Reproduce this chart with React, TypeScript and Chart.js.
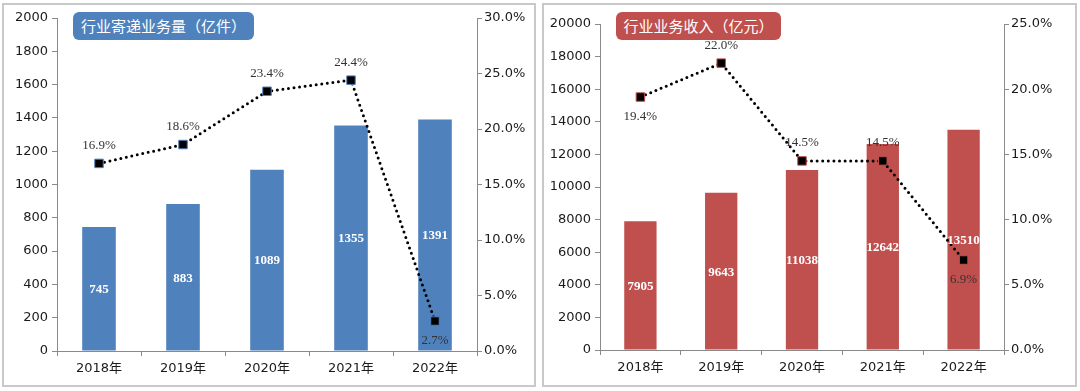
import React, { useEffect, useRef } from "react";
import { Chart, registerables } from "chart.js";

Chart.register(...registerables);

const years = ["2018年", "2019年", "2020年", "2021年", "2022年"];

const volumeTitle = "行业寄递业务量（亿件）";
const volume = [745, 883, 1089, 1355, 1391];
const volumeGrowth = [16.9, 18.6, 23.4, 24.4, 2.7];
const volumeLabelSide = ["above", "above", "above", "above", "below"];

const revenueTitle = "行业业务收入（亿元）";
const revenue = [7905, 9643, 11038, 12642, 13510];
const revenueGrowth = [19.4, 22.0, 14.5, 14.5, 6.9];
const revenueLabelSide = ["below", "above", "above", "above", "below"];

const SANS = "'DejaVu Sans', 'Noto Sans CJK SC', sans-serif";
const SERIF = "'Liberation Serif', 'DejaVu Serif', serif";

const valueLabels = {
  id: "valueLabels",
  afterDatasetsDraw(chart: any, _args: any, opts: any) {
    const ctx = chart.ctx;
    ctx.save();
    ctx.textAlign = "center";
    ctx.textBaseline = "middle";
    const barMeta = chart.getDatasetMeta(0);
    ctx.font = `bold 13px ${SERIF}`;
    ctx.fillStyle = "#ffffff";
    barMeta.data.forEach((el: any, i: number) => {
      const p = el.getProps(["x", "y", "base"], true);
      ctx.fillText(String(chart.data.datasets[0].data[i]), p.x, (p.y + p.base) / 2 + 1);
    });
    const lineMeta = chart.getDatasetMeta(1);
    ctx.font = `13px ${SERIF}`;
    ctx.fillStyle = "#333333";
    lineMeta.data.forEach((el: any, i: number) => {
      const side = opts.sides[i];
      const dy = side === "below" ? 20 : -18;
      const v = chart.data.datasets[1].data[i] as number;
      ctx.fillText(v.toFixed(1) + "%", el.x, el.y + dy);
    });
    ctx.restore();
  },
};

type PanelProps = {
  left: number;
  width: number;
  color: string;
  title: string;
  titleLeft: number;
  titleWidth: number;
  bars: number[];
  growth: number[];
  sides: string[];
  barMax: number;
  barStep: number;
  pctMax: number;
  leftW: number;
  rightW: number;
  topPad: number;
  xH: number;
};

function Panel(p: PanelProps) {
  const ref = useRef<HTMLCanvasElement | null>(null);
  const cw = p.width - 4;
  const ch = 380;
  useEffect(() => {
    if (!ref.current) return;
    const axisColor = "#8a8a8a";
    const tickFont = { family: SANS, size: 13 };
    const chart = new Chart(ref.current, {
      type: "bar",
      data: {
        labels: years,
        datasets: [
          {
            type: "bar",
            data: p.bars,
            backgroundColor: p.color,
            borderWidth: 0,
            categoryPercentage: 1,
            barPercentage: 0.4,
            yAxisID: "y",
            order: 2,
          },
          {
            type: "line",
            data: p.growth,
            borderColor: "#000000",
            borderWidth: 3,
            borderDash: [0, 5.6],
            borderCapStyle: "round",
            pointStyle: "rect",
            pointRadius: 6,
            pointBackgroundColor: "#000000",
            pointBorderColor: p.color,
            pointBorderWidth: 1,
            tension: 0,
            fill: false,
            yAxisID: "y1",
            order: 1,
          } as any,
        ],
      },
      options: {
        responsive: false,
        animation: false,
        events: [],
        layout: { padding: { top: p.topPad, left: 0, right: 0, bottom: 0 } },
        plugins: {
          legend: { display: false },
          tooltip: { enabled: false },
          valueLabels: { sides: p.sides },
        } as any,
        scales: {
          x: {
            offset: true,
            grid: {
              offset: true,
              drawOnChartArea: false,
              drawTicks: true,
              tickLength: 5,
              color: axisColor,
            },
            border: { display: true, color: axisColor },
            ticks: { color: "#1a1a1a", font: tickFont, padding: 5, maxRotation: 0 },
            afterFit: (s: any) => {
              s.height = p.xH;
            },
          },
          y: {
            position: "left",
            min: 0,
            max: p.barMax,
            ticks: {
              stepSize: p.barStep,
              color: "#1a1a1a",
              font: tickFont,
              padding: 4,
              callback: (v: any) => String(v),
            },
            grid: { drawOnChartArea: false, drawTicks: true, tickLength: 5, color: axisColor },
            border: { display: true, color: axisColor },
            afterFit: (s: any) => {
              s.width = p.leftW;
            },
          },
          y1: {
            position: "right",
            min: 0,
            max: p.pctMax,
            ticks: {
              stepSize: 5,
              color: "#1a1a1a",
              font: tickFont,
              padding: 2,
              callback: (v: any) => Number(v).toFixed(1) + "%",
            },
            grid: { drawOnChartArea: false, drawTicks: true, tickLength: 5, color: axisColor },
            border: { display: true, color: axisColor },
            afterFit: (s: any) => {
              s.width = p.rightW;
            },
          },
        },
      } as any,
      plugins: [valueLabels],
    });
    return () => chart.destroy();
  }, []);

  return (
    <div
      style={{
        position: "absolute",
        left: p.left,
        top: 3,
        width: p.width,
        height: 384,
        boxSizing: "border-box",
        border: "2px solid #c9c9c9",
        background: "#ffffff",
      }}
    >
      <canvas ref={ref} width={cw} height={ch} style={{ display: "block", width: cw, height: ch }} />
      <div
        style={{
          position: "absolute",
          left: p.titleLeft,
          top: 7,
          width: p.titleWidth,
          height: 28,
          borderRadius: 6,
          background: p.color,
          color: "#ffffff",
          fontFamily: "'Noto Sans CJK SC', sans-serif",
          fontSize: 15,
          lineHeight: "28px",
          textAlign: "center",
          whiteSpace: "nowrap",
        }}
      >
        {p.title}
      </div>
    </div>
  );
}

export default function App() {
  useEffect(() => {
    document.body.style.margin = "0";
  }, []);
  return (
    <div style={{ position: "relative", width: 1080, height: 391, background: "#ffffff", overflow: "hidden" }}>
      <Panel
        left={2}
        width={534}
        color="#4F81BD"
        title={volumeTitle}
        titleLeft={69}
        titleWidth={181}
        bars={volume}
        growth={volumeGrowth}
        sides={volumeLabelSide}
        barMax={2000}
        barStep={200}
        pctMax={30}
        leftW={53}
        rightW={57}
        topPad={13}
        xH={34}
      />
      <Panel
        left={542}
        width={535}
        color="#C0504D"
        title={revenueTitle}
        titleLeft={72}
        titleWidth={165}
        bars={revenue}
        growth={revenueGrowth}
        sides={revenueLabelSide}
        barMax={20000}
        barStep={2000}
        pctMax={25}
        leftW={56}
        rightW={71}
        topPad={19}
        xH={35}
      />
    </div>
  );
}
